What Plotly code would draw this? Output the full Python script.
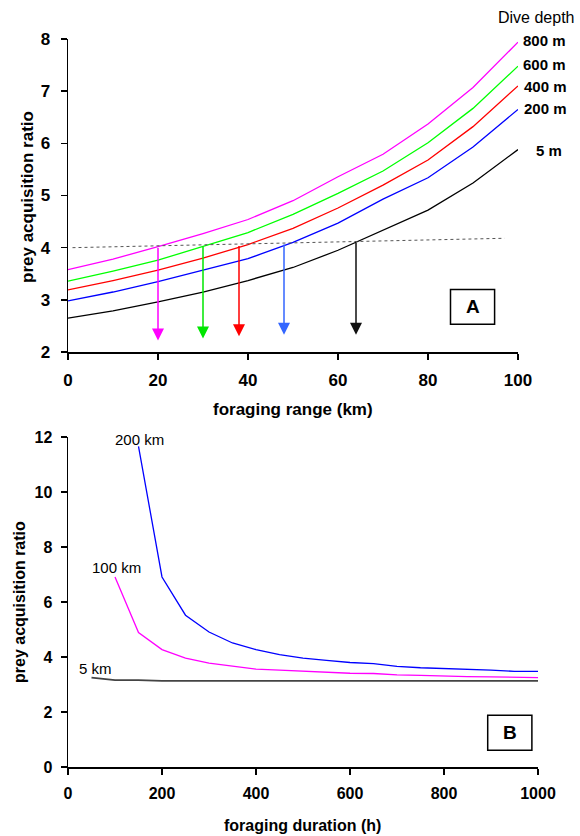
import plotly.graph_objects as go

# ---------------- Panel A data ----------------
range_km = [0, 10, 20, 30, 40, 50, 60, 70, 80, 90, 100]
depth_800 = [3.58, 3.78, 4.02, 4.27, 4.54, 4.90, 5.36, 5.79, 6.37, 7.07, 7.94]
depth_600 = [3.36, 3.55, 3.76, 4.03, 4.29, 4.64, 5.04, 5.47, 6.01, 6.67, 7.48]
depth_400 = [3.19, 3.37, 3.57, 3.80, 4.06, 4.37, 4.76, 5.20, 5.68, 6.32, 7.10]
depth_200 = [2.98, 3.15, 3.35, 3.57, 3.79, 4.10, 4.47, 4.93, 5.34, 5.93, 6.65]
depth_5 = [2.65, 2.79, 2.96, 3.15, 3.37, 3.62, 3.95, 4.34, 4.72, 5.24, 5.88]
depth_labels = ["800 m", "600 m", "400 m", "200 m", "5 m"]

threshold_x = [1, 97]
threshold_y = [4.00, 4.18]

arrow_x = [20, 30, 38, 48, 64]
arrow_top = [4.02, 4.05, 4.06, 4.09, 4.12]
arrow_tip = [2.22, 2.26, 2.30, 2.33, 2.33]

# ---------------- Panel B data ----------------
dur_200 = [150, 200, 250, 300, 350, 400, 450, 500, 550, 600, 650, 700, 750, 800, 850, 900, 950, 1000]
ratio_200 = [11.66, 6.91, 5.52, 4.91, 4.51, 4.27, 4.09, 3.96, 3.88, 3.80, 3.76, 3.66, 3.61, 3.58, 3.57, 3.52, 3.48, 3.48]
dur_100 = [100, 150, 200, 250, 300, 350, 400, 450, 500, 550, 600, 650, 700, 750, 800, 850, 900, 950, 1000]
ratio_100 = [6.91, 4.89, 4.27, 3.96, 3.78, 3.66, 3.56, 3.52, 3.48, 3.44, 3.41, 3.40, 3.35, 3.33, 3.30, 3.29, 3.28, 3.27, 3.25]
dur_5 = [50, 100, 150, 200, 250, 300, 350, 400, 450, 500, 550, 600, 650, 700, 750, 800, 850, 900, 950, 1000]
ratio_5 = [3.25, 3.16, 3.16, 3.13, 3.13, 3.13, 3.13, 3.13, 3.13, 3.13, 3.13, 3.13, 3.13, 3.13, 3.13, 3.13, 3.13, 3.13, 3.13, 3.13]
range_labels = ["200 km", "100 km", "5 km"]

W, H = 580, 836
FONT = "Arial, Liberation Sans, sans-serif"

def px(x):
    return x / W

def py(y):
    return 1 - y / H

fig = go.Figure()

top_colors = ["#ff00ff", "#00ff00", "#ff0000", "#0000ff", "#000000"]
top_series = [depth_800, depth_600, depth_400, depth_200, depth_5]
for ys, c, name in zip(top_series, top_colors, depth_labels):
    fig.add_trace(go.Scatter(x=range_km, y=ys, mode="lines", name=name,
                             line=dict(color=c, width=1.3), xaxis="x", yaxis="y",
                             showlegend=False, hoverinfo="skip"))

fig.add_trace(go.Scatter(x=threshold_x, y=threshold_y, mode="lines",
                         line=dict(color="#555555", width=1, dash="dot"),
                         xaxis="x", yaxis="y", showlegend=False, hoverinfo="skip"))

bot_series = [(dur_200, ratio_200, "#0000ff", 1.3), (dur_100, ratio_100, "#ff00ff", 1.3),
              (dur_5, ratio_5, "#444444", 1.8)]
for xs, ys, c, w in bot_series:
    fig.add_trace(go.Scatter(x=xs, y=ys, mode="lines", line=dict(color=c, width=w),
                             xaxis="x2", yaxis="y2", showlegend=False, hoverinfo="skip"))

annotations = []
arrow_colors = ["#ff00ff", "#00e600", "#ff0000", "#3366ff", "#111111"]
for ax_, top, tip, c in zip(arrow_x, arrow_top, arrow_tip, arrow_colors):
    annotations.append(dict(x=ax_, y=tip, ax=ax_, ay=top, xref="x", yref="y", axref="x", ayref="y",
                            showarrow=True, arrowhead=2, arrowsize=1.6, arrowwidth=1.5,
                            arrowcolor=c, text=""))

# depth labels (right of panel A)
label_pos = [(544, 40), (544, 65), (545, 86), (545, 108), (549, 150)]
for t, (lx, ly) in zip(depth_labels, label_pos):
    annotations.append(dict(x=px(lx), y=py(ly), xref="paper", yref="paper", text="<b>%s</b>" % t,
                            showarrow=False, font=dict(size=15, color="black", family=FONT),
                            xanchor="center", yanchor="middle"))
annotations.append(dict(x=px(577), y=py(18), xref="paper", yref="paper", text="Dive depth",
                        showarrow=False, font=dict(size=16, color="black", family=FONT),
                        xanchor="right", yanchor="middle"))

# panel B labels
b_label_pos = [(139, 439), (116, 567), (95, 668)]
for t, (lx, ly) in zip(range_labels, b_label_pos):
    annotations.append(dict(x=px(lx), y=py(ly), xref="paper", yref="paper", text=t,
                            showarrow=False, font=dict(size=15, color="black", family=FONT),
                            xanchor="center", yanchor="middle"))

# axis titles
annotations += [
    dict(x=px(27), y=py(197), xref="paper", yref="paper", text="<b>prey acquisition ratio</b>",
         textangle=-90, showarrow=False, xanchor="center", yanchor="middle",
         font=dict(size=17, color="black", family=FONT)),
    dict(x=px(293), y=py(410), xref="paper", yref="paper", text="<b>foraging range (km)</b>",
         showarrow=False, xanchor="center", yanchor="middle",
         font=dict(size=17, color="black", family=FONT)),
    dict(x=px(19), y=py(602), xref="paper", yref="paper", text="<b>prey acquisition ratio</b>",
         textangle=-90, showarrow=False, xanchor="center", yanchor="middle",
         font=dict(size=16, color="black", family=FONT)),
    dict(x=px(302), y=py(825), xref="paper", yref="paper", text="<b>foraging duration (h)</b>",
         showarrow=False, xanchor="center", yanchor="middle",
         font=dict(size=16, color="black", family=FONT)),
]

# panel letters
annotations += [
    dict(x=90, y=2.87, xref="x", yref="y", text="<b>A</b>", showarrow=False,
         font=dict(size=19, color="black", family=FONT)),
    dict(x=940, y=1.25, xref="x2", yref="y2", text="<b>B</b>", showarrow=False,
         font=dict(size=19, color="black", family=FONT)),
]

shapes = [
    dict(type="rect", xref="x", yref="y", x0=85, x1=94.8, y0=2.53, y1=3.2,
         line=dict(color="black", width=1.5), fillcolor="white", layer="below"),
    dict(type="rect", xref="x2", yref="y2", x0=893, x1=987, y0=0.61, y1=1.88,
         line=dict(color="black", width=1.5), fillcolor="white", layer="below"),
]

axis_common = dict(showgrid=False, zeroline=False, showline=True, linecolor="black", linewidth=1.5,
                   ticks="outside", ticklen=6, tickwidth=1.5, tickcolor="black", mirror=False,
                   automargin=False, fixedrange=True)

fig.update_layout(
    width=W, height=H,
    margin=dict(l=0, r=0, t=0, b=0, autoexpand=False),
    paper_bgcolor="white", plot_bgcolor="rgba(0,0,0,0)",
    font=dict(family=FONT, color="black"),
    hovermode=False,
    xaxis=dict(domain=[px(68), px(518)], range=[0, 100], tickvals=[0, 20, 40, 60, 80, 100],
               anchor="y", tickfont=dict(size=17, family=FONT, weight="bold"),
               ticklabelstandoff=6, **axis_common),
    yaxis=dict(domain=[py(352), py(39)], range=[2, 8], tickvals=[2, 3, 4, 5, 6, 7, 8],
               anchor="x", tickfont=dict(size=17, family=FONT, weight="bold"),
               ticklabelstandoff=7, **axis_common),
    xaxis2=dict(domain=[px(68), px(538)], range=[0, 1000], tickvals=[0, 200, 400, 600, 800, 1000],
                anchor="y2", tickfont=dict(size=16, family=FONT, weight="bold"),
                ticklabelstandoff=5, **axis_common),
    yaxis2=dict(domain=[py(767), py(437)], range=[0, 12], tickvals=[0, 2, 4, 6, 8, 10, 12],
                anchor="x2", tickfont=dict(size=16, family=FONT, weight="bold"),
                ticklabelstandoff=5, **axis_common),
    annotations=annotations,
    shapes=shapes,
)

fig.write_html("out.html", config={"displayModeBar": False, "staticPlot": True},
               post_script="document.body.style.margin='0';document.body.style.padding='0';"
                           "document.body.style.overflow='hidden';")
